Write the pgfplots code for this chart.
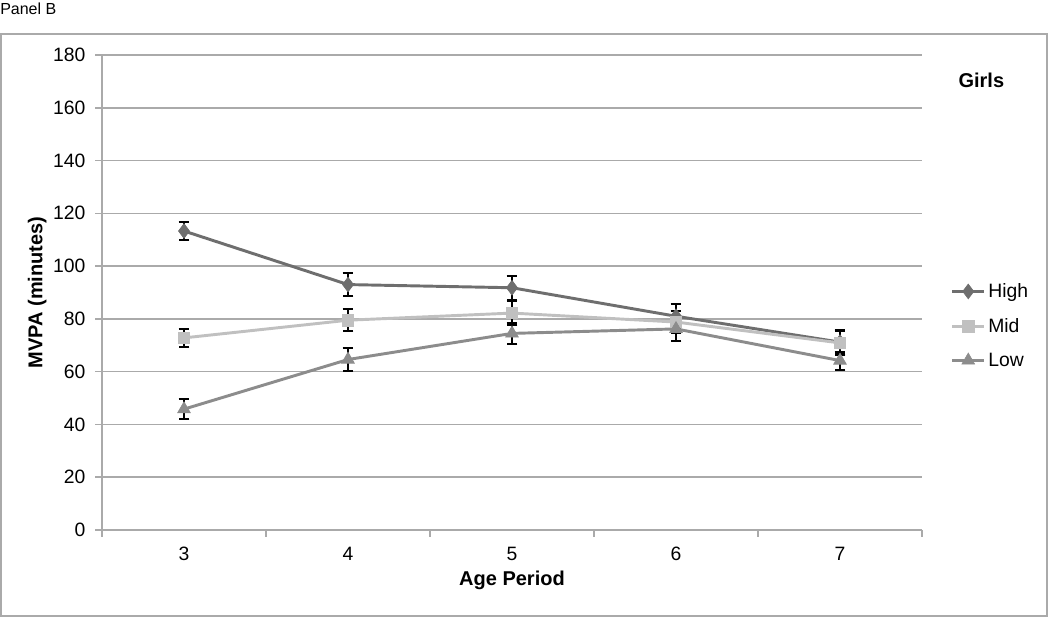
\documentclass[border=0pt]{standalone}
\usepackage{fontspec}
\setmainfont{Liberation Sans}
\usepackage{pgfplots}
\pgfplotsset{compat=1.18}
\definecolor{cHigh}{RGB}{110,110,110}
\definecolor{cMid}{RGB}{192,192,192}
\definecolor{cLow}{RGB}{140,140,140}
\definecolor{cGrid}{RGB}{170,170,170}
\begin{document}
\begin{tikzpicture}
\useasboundingbox (0pt,0pt) rectangle (787.5pt,462.75pt);
\draw[cGrid, line width=1.2pt] (0.75pt,0.75pt) rectangle (785.25pt,437.25pt);
\node[anchor=base west, font=\fontsize{12}{14}\selectfont, inner sep=0] at (0pt,452pt) {Panel B};
\node[font=\fontsize{15}{17}\selectfont\bfseries] at (736pt,402.75pt) {Girls};
\begin{axis}[
  at={(76.5pt,65.25pt)}, anchor=south west,
  scale only axis, width=615pt, height=356.25pt,
  xmin=2.5, xmax=7.5, ymin=0, ymax=180,
  ytick={0,20,...,180},
  xtick={3,4,5,6,7},
  minor xtick={2.5,3.5,...,7.5},
  axis x line*=bottom, axis y line*=left,
  axis line style={-, cGrid, line width=1.2pt},
  ymajorgrids, grid style={cGrid, line width=1.2pt},
  tick align=outside, major tick length=5pt, minor tick length=5pt,
  major x tick style={draw=none},
  every tick/.style={cGrid, line width=1.2pt},
  tick label style={font=\fontsize{14.5}{17}\selectfont},
  /pgf/number format/assume math mode=true,
  yticklabel style={xshift=-4pt},
  xticklabel style={yshift=-4pt},
  xlabel={\bfseries Age Period},
  ylabel={\bfseries MVPA (minutes)},
  label style={font=\fontsize{15}{17}\selectfont},
  xlabel style={yshift=-1pt},
  ylabel style={yshift=-2pt},
  legend style={at={(1.03,0.43)}, anchor=west, draw=none, fill=none,
     font=\fontsize{14.5}{16}\selectfont, row sep=10pt,
     legend cell align=left},
  legend image code/.code={\draw[mark repeat=2,mark phase=2,#1] plot coordinates {(0cm,0cm) (0.42cm,0cm) (0.84cm,0cm)};},
  error bars/y dir=both, error bars/y explicit,
  error bars/error bar style={black, line width=1.5pt},
  error bars/error mark options={black, line width=1.5pt, rotate=90, mark size=4pt},
]
\addplot[cHigh, line width=2.2pt, mark=diamond*, mark size=5.5pt, mark options={solid, fill=cHigh, draw=cHigh, line width=0.5pt}]
 coordinates {(3,113.3) +- (0,3.5) (4,93) +- (0,4.3) (5,91.8) +- (0,4.6) (6,81) +- (0,4.6) (7,71.2) +- (0,4.5)};
\addlegendentry{High}
\addplot[cMid, line width=2.2pt, mark=square*, mark size=4.3pt, mark options={solid, fill=cMid, draw=cMid, line width=0.5pt}]
 coordinates {(3,72.8) +- (0,3.4) (4,79.5) +- (0,4.1) (5,82.2) +- (0,4.4) (6,78.8) +- (0,4.2) (7,70.9) +- (0,4.5)};
\addlegendentry{Mid}
\addplot[cLow, line width=2.2pt, mark=triangle*, mark size=5.5pt, mark options={solid, fill=cLow, draw=cLow, line width=0.5pt}]
 coordinates {(3,45.8) +- (0,3.7) (4,64.6) +- (0,4.5) (5,74.5) +- (0,4.1) (6,76.2) +- (0,4.6) (7,64.2) +- (0,3.4)};
\addlegendentry{Low}
\end{axis}
\end{tikzpicture}
\end{document}
